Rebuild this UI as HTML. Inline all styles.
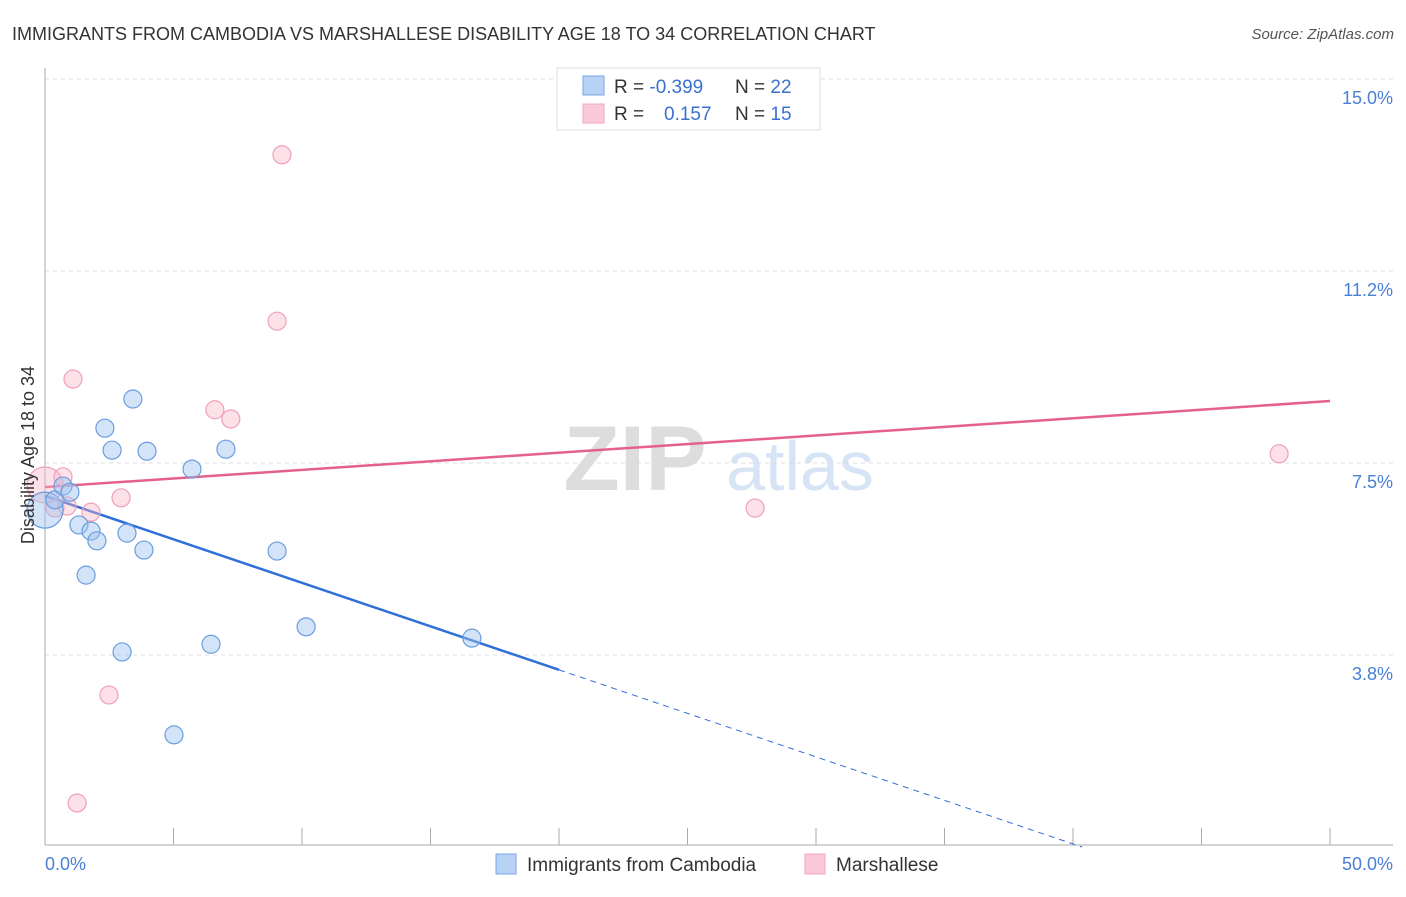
<!DOCTYPE html>
<html><head><meta charset="utf-8"><style>
body{margin:0;background:#fff;font-family:"Liberation Sans",sans-serif}
svg text{font-family:"Liberation Sans",sans-serif}
</style></head><body>
<svg width="1406" height="892" viewBox="0 0 1406 892" xmlns="http://www.w3.org/2000/svg">
<text x="12" y="40" font-size="18" fill="#333">IMMIGRANTS FROM CAMBODIA VS MARSHALLESE DISABILITY AGE 18 TO 34 CORRELATION CHART</text>
<text x="1394" y="39" font-size="15" fill="#555" font-style="italic" text-anchor="end">Source: ZipAtlas.com</text>
<g><text x="635" y="490" font-size="92" fill="#ddd" font-family="Liberation Serif" text-anchor="middle" font-weight="bold">ZIP</text><text x="800" y="490" font-size="70" fill="#d6e4f5" text-anchor="middle">atlas</text></g>
<g id="grid"></g><g id="axes"></g><g id="lines"></g><g id="pts"></g>
<text transform="translate(34,455) rotate(-90)" font-size="18" fill="#333" text-anchor="middle">Disability Age 18 to 34</text>
<text x="45" y="870" font-size="18" fill="#4a7fd4">0.0%</text>
<text x="1393" y="870" font-size="18" fill="#4a7fd4" text-anchor="end">50.0%</text>
<g>
<rect x="557" y="68" width="263" height="62" fill="#fff" stroke="#ddd"/>
<rect x="583" y="76" width="21" height="19" fill="#b8d2f5" stroke="#7aa6e6"/>
<rect x="583" y="104" width="21" height="19" fill="#fbcada" stroke="#f0a6bd"/>
<text x="614" y="93" font-size="19" fill="#333">R = <tspan fill="#3a70d0">-0.399</tspan></text>
<text x="735" y="93" font-size="19" fill="#333">N = <tspan fill="#3a70d0">22</tspan></text>
<text x="614" y="120" font-size="19" fill="#333">R = <tspan x="664" fill="#3a70d0">0.157</tspan></text>
<text x="735" y="120" font-size="19" fill="#333">N = <tspan fill="#3a70d0">15</tspan></text>
</g>
<g>
<rect x="496" y="854" width="20" height="20" fill="#b8d2f5" stroke="#7aa6e6"/>
<text x="527" y="871" font-size="19" fill="#333">Immigrants from Cambodia</text>
<rect x="805" y="854" width="20" height="20" fill="#fbcada" stroke="#f0a6bd"/>
<text x="836" y="871" font-size="19" fill="#333">Marshallese</text>
</g>
</svg>
<script>
const yTicks=[15.0,11.2,7.5,3.8];
const yTickVals=[15,11.25,7.5,3.75];
const xTicks=[0,5,10,15,20,25,30,35,40,45,50];
const blueX=[0,0.39,0.70,0.97,1.32,1.60,1.79,2.02,2.33,2.61,3.0,3.19,3.42,3.85,3.97,5.02,5.72,6.46,7.04,9.03,10.16,16.61];
const blueY=[6.58,6.78,7.05,6.93,6.29,5.31,6.17,5.98,8.18,7.75,3.81,6.13,8.75,5.80,7.73,2.19,7.38,3.96,7.77,5.78,4.30,4.08];
const pinkX=[0,0.39,0.70,0.86,1.09,1.25,1.79,2.49,2.96,6.61,7.23,9.03,9.22,27.63,48.02];
const pinkY=[7.07,6.62,7.23,6.66,9.14,0.86,6.54,2.97,6.82,8.54,8.36,10.27,13.52,6.62,7.68];
const blueTrend=[6.86,-0.17];
const pinkTrend=[7.03,0.0336];
const NS="http://www.w3.org/2000/svg";
const X=v=>45+v*25.7, Y=v=>79+(15-v)*51.2;
function mk(p,t,a){const e=document.createElementNS(NS,t);for(const k in a)e.setAttribute(k,a[k]);document.getElementById(p).appendChild(e);return e;}
yTickVals.forEach((v,i)=>{
 const l=mk('grid','line',{x1:45,x2:1393,y1:Y(v),y2:Y(v),stroke:'#ddd','stroke-dasharray':'4,4'});
 
 
 const t=mk('grid','text',{x:1393,y:Y(v)+25,'font-size':18,fill:'#4a7fd4','text-anchor':'end'});
 t.textContent=yTicks[i].toFixed(1)+'%';
 
 
});
let a=mk('axes','line',{x1:45,x2:45,y1:68,y2:845,stroke:'#aaa'});


a=mk('axes','line',{x1:45,x2:1393,y1:845,y2:845,stroke:'#aaa'});


xTicks.forEach(v=>{const t=mk('axes','line',{x1:X(v),x2:X(v),y1:828,y2:845,stroke:'#aaa'});
 
 });
const bEnd=20, bZero=-blueTrend[0]/blueTrend[1];
let l=mk('lines','line',{x1:X(0),y1:Y(blueTrend[0]),x2:X(bEnd),y2:Y(blueTrend[0]+blueTrend[1]*bEnd),stroke:'#2f6fd8','stroke-width':2.5});


l=mk('lines','line',{x1:X(bEnd),y1:Y(blueTrend[0]+blueTrend[1]*bEnd),x2:X(bZero),y2:Y(0),stroke:'#2f6fd8','stroke-width':1,'stroke-dasharray':'6,5'});


l=mk('lines','line',{x1:X(0),y1:Y(pinkTrend[0]),x2:X(50),y2:Y(pinkTrend[0]+pinkTrend[1]*50),stroke:'#e5608a','stroke-width':2.5});


function pts(xs,ys,fill,stroke,name){xs.forEach((x,i)=>{
 const c=mk('pts','circle',{cx:X(x),cy:Y(ys[i]),r:i===0?18:9,fill:fill,stroke:stroke,'stroke-width':1.2});
 
 });}
pts(pinkX,pinkY,'rgba(248,180,200,0.4)','#f0a0b8','marshallese-point');
pts(blueX,blueY,'rgba(160,195,240,0.45)','#6a9de0','cambodia-point');
</script>
</body></html>
